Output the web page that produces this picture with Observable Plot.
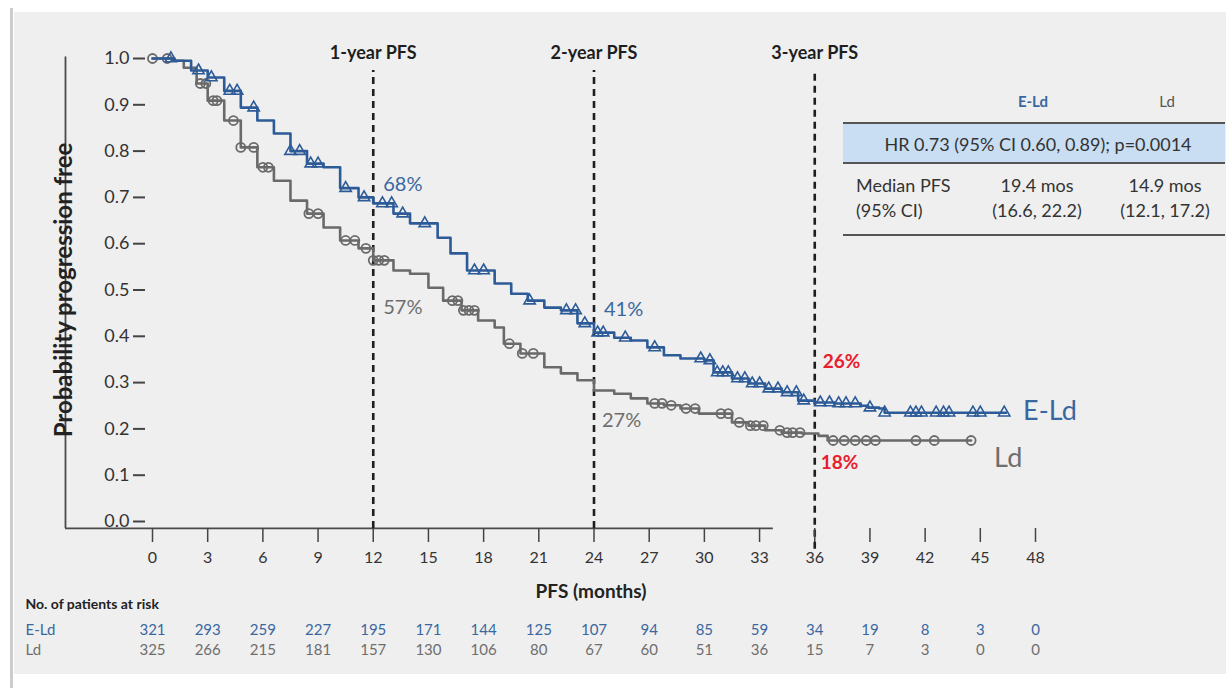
<!DOCTYPE html>
<html>
<head>
<meta charset="utf-8">
<script src="https://cdn.jsdelivr.net/npm/d3@7"></script>
<script src="https://cdn.jsdelivr.net/npm/@observablehq/plot@0.6"></script>
<style>
  html, body { margin: 0; padding: 0; background: #ffffff; width: 1231px; height: 688px; overflow: hidden; font-family: Lato, "Open Sans", sans-serif; }
  #frame { position: absolute; left: 10px; top: 8px; width: 3px; height: 680px; background: #cccccc; }
  #panel { position: absolute; left: 14px; top: 12px; width: 1212px; height: 662px; background: #efefef; }
  #chart { position: absolute; left: 0; top: 0; }
  .abs { position: absolute; white-space: nowrap; }
  .rule { position: absolute; left: 843px; width: 382px; height: 2px; background: #555; }
</style>
</head>
<body>
<div id="frame"></div>
<div id="panel"></div>
<div id="chart"></div>

<!-- summary table -->
<div class="abs" style="left:983px;top:91px;width:100px;text-align:center;font-size:15px;line-height:20px;font-weight:bold;color:#3a67a0;">E-Ld</div>
<div class="abs" style="left:1117px;top:91px;width:100px;text-align:center;font-size:15px;line-height:20px;color:#555;">Ld</div>
<div class="rule" style="top:122px;"></div>
<div class="abs" style="left:843px;top:124px;width:382px;height:38px;background:#c9def2;"></div>
<div class="abs" style="left:847px;top:124px;width:382px;line-height:40px;text-align:center;font-size:18px;color:#333;">HR 0.73 (95% CI 0.60, 0.89); p=0.0014</div>
<div class="rule" style="top:162px;"></div>
<div class="abs" style="left:856px;top:173px;font-size:18px;color:#333;line-height:25px;">Median PFS<br>(95% CI)</div>
<div class="abs" style="left:977px;top:173px;width:120px;text-align:center;font-size:18px;color:#333;line-height:25px;">19.4 mos<br>(16.6, 22.2)</div>
<div class="abs" style="left:1105px;top:173px;width:120px;text-align:center;font-size:18px;color:#333;line-height:25px;">14.9 mos<br>(12.1, 17.2)</div>
<div class="rule" style="top:234px;"></div>

<script>
// ---------- data ----------
const months = [0, 3, 6, 9, 12, 15, 18, 21, 24, 27, 30, 33, 36, 39, 42, 45, 48];
const yTicks = [0, 0.1, 0.2, 0.3, 0.4, 0.5, 0.6, 0.7, 0.8, 0.9, 1.0];

const riskELd = [321, 293, 259, 227, 195, 171, 144, 125, 107, 94, 85, 59, 34, 19, 8, 3, 0];
const riskLd  = [325, 266, 215, 181, 157, 130, 106, 80, 67, 60, 51, 36, 15, 7, 3, 0, 0];

// Kaplan-Meier step estimates
const eldTime = [0, 1.1, 2.1, 3.0, 3.9, 4.8, 5.7, 6.6, 7.5, 8.4, 9.3, 10.2, 11.2, 12.0, 13.1, 14.0, 15.5, 16.2, 17.1, 18.6, 19.5, 20.4, 21.3, 22.2, 23.1, 24.0, 25.1, 26.0, 26.9, 27.8, 28.7, 30.0, 30.5, 31.5, 32.4, 33.3, 34.2, 35.1, 36.0, 37.1, 38.5, 38.9, 39.5, 39.8, 46.4];
const eldSurv = [1.0, 0.995, 0.974, 0.959, 0.93, 0.894, 0.866, 0.838, 0.80, 0.773, 0.765, 0.72, 0.70, 0.687, 0.665, 0.644, 0.613, 0.579, 0.542, 0.514, 0.492, 0.477, 0.462, 0.456, 0.428, 0.408, 0.397, 0.391, 0.376, 0.359, 0.352, 0.348, 0.322, 0.309, 0.298, 0.287, 0.279, 0.261, 0.257, 0.255, 0.25, 0.246, 0.244, 0.235, 0.235];

const ldTime = [0, 1.2, 1.7, 2.4, 3.0, 3.9, 4.8, 5.7, 6.6, 7.5, 8.4, 9.3, 10.2, 11.2, 12.0, 13.1, 14.0, 15.0, 15.8, 16.8, 17.7, 18.6, 19.1, 20.0, 21.3, 22.2, 23.1, 24.0, 25.1, 26.0, 26.9, 27.8, 28.7, 29.7, 30.5, 31.5, 32.4, 33.3, 34.2, 35.3, 36.2, 36.7, 44.5];
const ldSurv = [1.0, 0.995, 0.98, 0.946, 0.909, 0.866, 0.808, 0.765, 0.736, 0.693, 0.665, 0.635, 0.607, 0.59, 0.564, 0.542, 0.535, 0.505, 0.477, 0.456, 0.434, 0.419, 0.384, 0.363, 0.333, 0.32, 0.305, 0.283, 0.276, 0.266, 0.255, 0.251, 0.244, 0.233, 0.233, 0.214, 0.207, 0.197, 0.192, 0.19, 0.185, 0.175, 0.175];

// censoring times (tick marks on the curves)
const eldCensor = [1.0, 2.5, 3.2, 4.2, 4.6, 5.5, 7.5, 8.0, 8.6, 9.0, 10.5, 11.5, 12.5, 13.0, 13.6, 14.8, 17.5, 18.0, 20.5, 22.5, 23.0, 23.5, 24.2, 24.5, 25.7, 27.3, 29.8, 30.3, 30.7, 31.0, 31.3, 31.8, 32.2, 32.6, 33.0, 33.5, 34.0, 34.5, 35.0, 35.4, 36.3, 36.8, 37.3, 37.7, 38.2, 39.0, 39.8, 41.2, 41.5, 41.8, 42.6, 43.0, 43.3, 44.6, 45.0, 46.3];
const ldCensor = [0.0, 0.8, 2.6, 2.9, 3.3, 3.5, 4.4, 4.8, 5.5, 6.0, 6.3, 8.5, 9.0, 10.5, 11.0, 11.6, 12.0, 12.3, 12.6, 16.3, 16.6, 16.9, 17.2, 17.5, 19.4, 20.1, 20.7, 27.3, 27.7, 28.2, 29.0, 29.5, 30.9, 31.3, 31.9, 32.5, 32.8, 33.2, 34.1, 34.5, 34.8, 35.2, 37.0, 37.6, 38.2, 38.8, 39.3, 41.5, 42.5, 44.5];

const landmarks = [12, 24, 36];
const landmarkLabels = ["1-year PFS", "2-year PFS", "3-year PFS"];
const eldLandmarkPct = [68, 41, 26];
const ldLandmarkPct = [57, 27, 18];

// ---------- styling ----------
const BLUE = "#2c5b98";
const BLUE_TXT = "#3a67a0";
const GRAY = "#6a6a6a";
const GRAY_TXT = "#6e6e6e";
const RED = "#e8202e";

// ---------- derived tables ----------
const eld = eldTime.map((t, i) => ({t, v: eldSurv[i]}));
const ld = ldTime.map((t, i) => ({t, v: ldSurv[i]}));
const stepAt = (times, surv) => t => surv[Math.max(0, d3.bisectRight(times, t) - 1)];
const eldAt = stepAt(eldTime, eldSurv);
const ldAt = stepAt(ldTime, ldSurv);
const eldCens = eldCensor.map(t => ({t, v: eldAt(t)}));
const ldCens = ldCensor.map(t => ({t, v: ldAt(t)}));
const risk = months.flatMap((m, i) => [{m, n: riskELd[i], arm: "E-Ld"}, {m, n: riskLd[i], arm: "Ld"}]);
const pctE = landmarks.map((m, i) => ({m, p: eldLandmarkPct[i]}));
const pctL = landmarks.map((m, i) => ({m, p: ldLandmarkPct[i]}));

const AXIS_LEFT_T = -4.73;   // x position of the drawn y axis line
const BASE_V = -0.015;       // baseline slightly under 0

const pctText = (arr, idx, opts) => Plot.text([arr[idx]], {x: "m", y: d => d.p / 100, text: d => d.p + "%", textAnchor: "start", ...opts});

const chart = Plot.plot({
  width: 1231,
  height: 688,
  marginLeft: 152,
  marginRight: 196,
  marginTop: 58,
  marginBottom: 167,
  x: {domain: [0, 48], label: null},
  y: {domain: [0, 1], label: null},
  style: {background: "transparent", fontFamily: "Lato, 'Open Sans', sans-serif", color: "#333"},
  marks: [
    // axis lines
    Plot.ruleX([AXIS_LEFT_T], {y1: BASE_V, y2: 1.003, stroke: "#4a4a4a", strokeWidth: 1.8}),
    Plot.ruleY([BASE_V], {x1: AXIS_LEFT_T, x2: 33.75, stroke: "#4a4a4a", strokeWidth: 1.8}),
    // landmark dashed lines
    Plot.ruleX(landmarks, {x: d => d, y1: d => d === 36 ? -0.06 : BASE_V, y2: 0.974, stroke: "#1e1e1e", strokeWidth: 2.6, strokeDasharray: "7,5"}),
    Plot.text(landmarks, {x: d => d, text: (d, i) => landmarkLabels[i], frameAnchor: "top", dy: -12, fontSize: 18, fontWeight: "bold", fill: "#1e1e1e"}),
    // curves
    Plot.line(ld, {x: "t", y: "v", curve: "step-after", stroke: GRAY, strokeWidth: 2.6}),
    Plot.dot(ldCens, {x: "t", y: "v", r: 4.5, stroke: GRAY, strokeWidth: 1.8, fill: "none"}),
    Plot.line(eld, {x: "t", y: "v", curve: "step-after", stroke: BLUE, strokeWidth: 2.6}),
    Plot.dot(eldCens, {x: "t", y: "v", symbol: "triangle", r: 4.2, stroke: BLUE, strokeWidth: 1.6, fill: "none"}),
    // axes
    Plot.axisY({ticks: yTicks, tickFormat: d3.format(".1f"), label: null, tickSize: 12, tickPadding: 4, dx: -7, fontSize: 18, stroke: "#444", strokeWidth: 2, fill: "#333"}),
    Plot.axisX({ticks: months, tickFormat: d => String(d), label: null, tickSize: 14, tickPadding: 9, dy: 7, fontSize: 16, stroke: "#444", strokeWidth: 1.5, fill: "#333"}),
    Plot.text(["Probability progression free"], {frameAnchor: "left", textAnchor: "middle", rotate: -90, dx: -88, fontSize: 24, fontWeight: "bold", fill: "#222"}),
    Plot.text(["PFS (months)"], {x: () => 24, frameAnchor: "bottom", dx: -3, dy: 76, fontSize: 19, fontWeight: "bold", fill: "#222"}),
    // landmark percentages
    pctText(pctE, 0, {dx: 10, dy: -22, fontSize: 20, fill: BLUE_TXT}),
    pctText(pctE, 1, {dx: 10, dy: -22, fontSize: 20, fill: BLUE_TXT}),
    pctText(pctL, 0, {dx: 10, dy: 50, fontSize: 20, fill: GRAY_TXT}),
    pctText(pctL, 1, {dx: 8, dy: 24, fontSize: 20, fill: GRAY_TXT}),
    pctText(pctE, 2, {dx: 8, dy: -39, fontSize: 19, fontWeight: "bold", fill: RED}),
    pctText(pctL, 2, {dx: 6, dy: 25, fontSize: 19, fontWeight: "bold", fill: RED}),
    // end-of-curve labels
    Plot.text([eld[eld.length - 1]], {x: "t", y: "v", text: () => "E-Ld", dx: 17, dy: -1, textAnchor: "start", fontSize: 27, fill: BLUE_TXT}),
    Plot.text([ld[ld.length - 1]], {x: "t", y: "v", text: () => "Ld", dx: 23, dy: 18, textAnchor: "start", fontSize: 27, fill: GRAY_TXT}),
    // number at risk table
    Plot.text(["No. of patients at risk"], {frameAnchor: "bottom-left", dx: -127, dy: 87, textAnchor: "start", fontSize: 14, fontWeight: "bold", fill: "#222"}),
    Plot.text(["E-Ld"], {frameAnchor: "bottom-left", dx: -127, dy: 113, textAnchor: "start", fontSize: 15, fill: BLUE_TXT}),
    Plot.text(["Ld"], {frameAnchor: "bottom-left", dx: -127, dy: 133, textAnchor: "start", fontSize: 15, fill: GRAY_TXT}),
    Plot.text(risk.filter(d => d.arm === "E-Ld"), {x: "m", text: d => String(d.n), frameAnchor: "bottom", dy: 113, fontSize: 15, fill: BLUE_TXT}),
    Plot.text(risk.filter(d => d.arm === "Ld"), {x: "m", text: d => String(d.n), frameAnchor: "bottom", dy: 133, fontSize: 15, fill: GRAY_TXT})
  ]
});
document.getElementById("chart").appendChild(chart);
</script>
</body>
</html>
